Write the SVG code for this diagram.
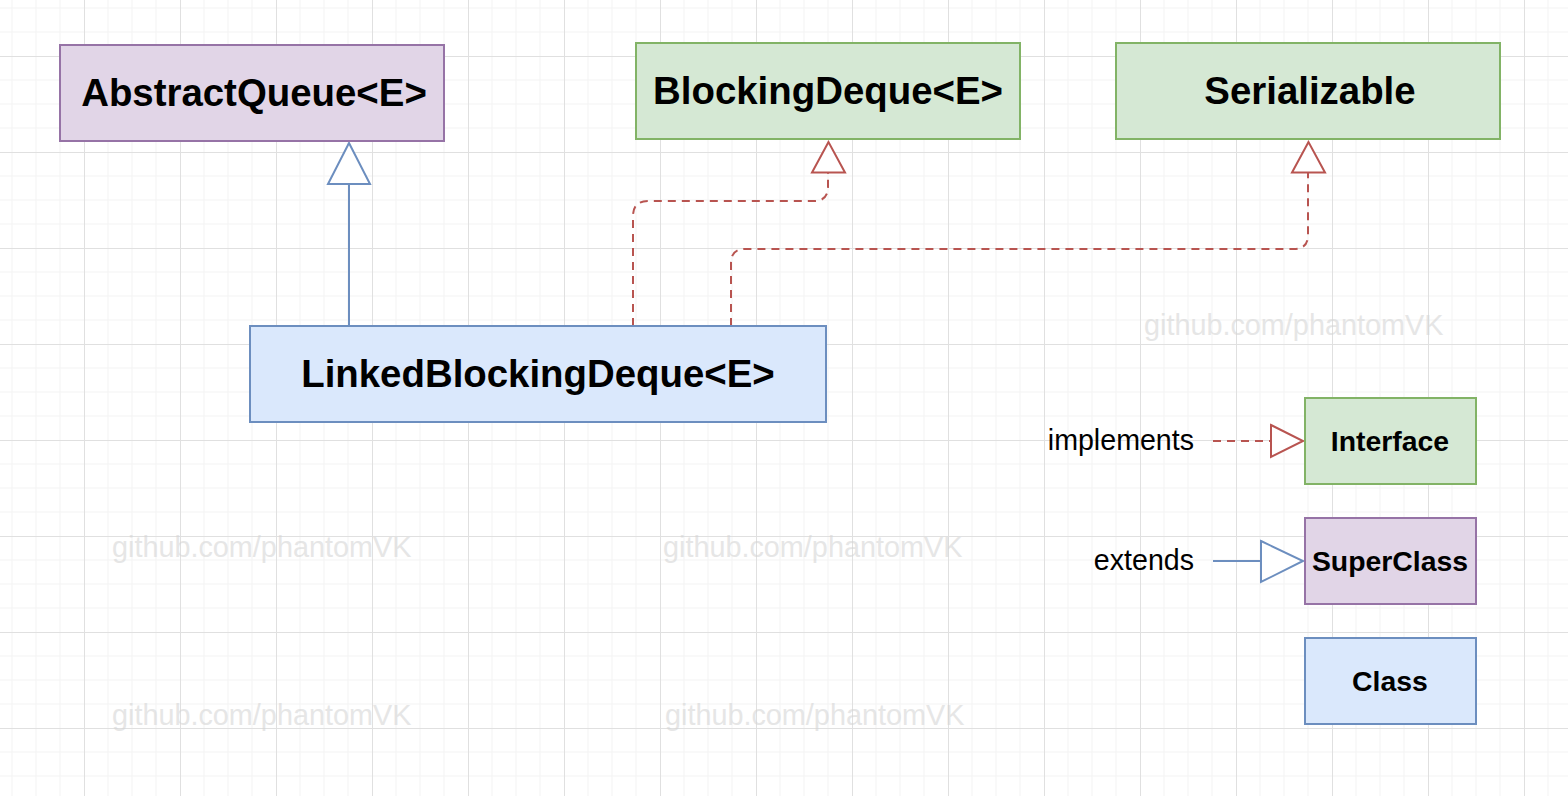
<svg xmlns="http://www.w3.org/2000/svg" width="1568" height="796" viewBox="0 0 1568 796">
  <defs>
    <pattern id="grid" patternUnits="userSpaceOnUse" x="84" y="56" width="96" height="96">
      <path d="M24 0V96M48 0V96M72 0V96M0 24H96M0 48H96M0 72H96" stroke="#f3f3f3" stroke-width="1" fill="none"/>
      <path d="M0.5 0V96M0 0.5H96" stroke="#e0e0e0" stroke-width="1" fill="none"/>
    </pattern>
    <style>
      .node text { font-family: "Liberation Sans", Arial, sans-serif; font-weight: bold; fill: #000; text-anchor: middle; }
      .big { font-size: 38.4px; }
      .small { font-size: 28.4px; }
      .iface { fill: #d5e8d4; stroke: #82b366; stroke-width: 2; }
      .super { fill: #e1d5e7; stroke: #9673a6; stroke-width: 2; }
      .cls { fill: #dae8fc; stroke: #6c8ebf; stroke-width: 2; }
      .impl { fill: none; stroke: #b85450; stroke-width: 2; stroke-dasharray: 8 6; }
      .ext { fill: none; stroke: #6c8ebf; stroke-width: 2; }
      .tri-r { fill: #fff; stroke: #b85450; stroke-width: 2; }
      .tri-b { fill: #fff; stroke: #6c8ebf; stroke-width: 2; }
      .wm { font-family: "Liberation Sans", Arial, sans-serif; font-size: 28.8px; fill: #d6d6d6; opacity: 0.6; }
      .lbl { font-family: "Liberation Sans", Arial, sans-serif; font-size: 28.6px; fill: #000; text-anchor: end; }
    </style>
  </defs>
  <rect width="1568" height="796" fill="#ffffff"/>
  <rect width="1568" height="796" fill="url(#grid)"/>

  <g id="watermarks">
    <text class="wm" x="112" y="557">github.com/phantomVK</text>
    <text class="wm" x="663" y="557">github.com/phantomVK</text>
    <text class="wm" x="112" y="725">github.com/phantomVK</text>
    <text class="wm" x="665" y="725">github.com/phantomVK</text>
    <text class="wm" x="1144" y="335">github.com/phantomVK</text>
  </g>

  <g id="connectors">
    <path class="ext" d="M349 326V184"/>
    <polygon class="tri-b" points="349,143 328,184 370,184"/>
    <path class="impl" d="M633 326V216Q633 201 648 201H814Q828 201 828 187V173"/>
    <polygon class="tri-r" points="828.5,142 812,172.5 845,172.5"/>
    <path class="impl" d="M731 326V263Q731 249 745 249H1294Q1308 249 1308 235V173"/>
    <polygon class="tri-r" points="1308.5,142 1292,172.5 1325,172.5"/>
    <path class="impl" d="M1213 441H1270"/>
    <polygon class="tri-r" points="1271,425 1303,441 1271,457"/>
    <path class="ext" d="M1213 561H1261"/>
    <polygon class="tri-b" points="1261,541 1303,561 1261,582"/>
  </g>

  <g id="abstractqueue" class="node">
    <rect class="super" x="60" y="45" width="384" height="96"/>
    <text class="big" x="254" y="106">AbstractQueue&lt;E&gt;</text>
  </g>
  <g id="blockingdeque" class="node">
    <rect class="iface" x="636" y="43" width="384" height="96"/>
    <text class="big" x="828" y="104">BlockingDeque&lt;E&gt;</text>
  </g>
  <g id="serializable" class="node">
    <rect class="iface" x="1116" y="43" width="384" height="96"/>
    <text class="big" x="1310" y="104">Serializable</text>
  </g>
  <g id="linkedblockingdeque" class="node">
    <rect class="cls" x="250" y="326" width="576" height="96"/>
    <text class="big" x="538" y="387">LinkedBlockingDeque&lt;E&gt;</text>
  </g>

  <g id="legend-interface" class="node">
    <rect class="iface" x="1305" y="398" width="171" height="86"/>
    <text class="small" x="1390" y="451">Interface</text>
  </g>
  <g id="legend-superclass" class="node">
    <rect class="super" x="1305" y="518" width="171" height="86"/>
    <text class="small" x="1390" y="571">SuperClass</text>
  </g>
  <g id="legend-class" class="node">
    <rect class="cls" x="1305" y="638" width="171" height="86"/>
    <text class="small" x="1390" y="691">Class</text>
  </g>
  <g id="legend-labels">
    <text class="lbl" x="1194" y="450">implements</text>
    <text class="lbl" x="1194" y="570">extends</text>
  </g>
</svg>
